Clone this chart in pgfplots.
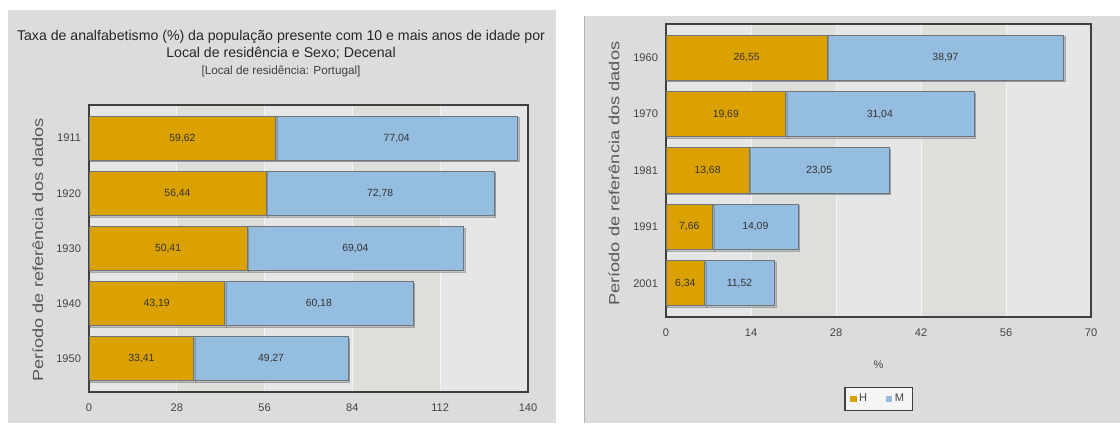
\documentclass[border=0pt]{standalone}
\usepackage{pgfplots}
\pgfplotsset{compat=1.18}
\usepackage{fontspec}
\setmainfont{Liberation Sans}
\newfontfamily\widefont[FakeStretch=1.24]{Liberation Sans}
\usetikzlibrary{shadows}
\definecolor{cH}{HTML}{DBA100}
\definecolor{cM}{HTML}{95BDE0}
\definecolor{panel}{HTML}{DCDCDC}
\definecolor{bandL}{HTML}{E6E6E6}
\definecolor{bandD}{HTML}{DEDFDA}
\definecolor{barborder}{HTML}{6E757A}
\definecolor{txt}{HTML}{333333}
\definecolor{ticktxt}{HTML}{444444}
\definecolor{frame}{HTML}{404040}

\pgfplotsset{
  bgaxis/.style={
    scale only axis, hide axis, y dir=reverse,
    ymin=-0.6, ymax=4.6, xmin=0,
  },
  mybars/.style={
    xbar stacked,
    scale only axis,
    bar width=0.8,
    y dir=reverse,
    ymin=-0.6, ymax=4.6,
    ytick={0,1,2,3,4},
    xmin=0,
    axis line style={draw=frame, line width=1.5pt},
    major tick length=0pt,
    tick style={draw=none},
    xmajorgrids,
    grid style={draw=white!55!bandL, line width=0.6pt},
    /pgf/number format/assume math mode=true,
    tick label style={font=\fontsize{8.3}{9}\selectfont, color=ticktxt},
    yticklabel style={xshift=-2.5pt},
    xticklabel style={yshift=-5.5pt},
    point meta=explicit symbolic,
    nodes near coords,
    nodes near coords align={center},
    every node near coord/.append style={
      font=\fontsize{7.8}{8}\selectfont, color=txt},
    clip=false,
  },
  hbar/.style={fill=cH, draw=barborder, line width=0.7pt,
    drop shadow={shadow xshift=1.2pt, shadow yshift=-1.2pt, fill=black!40}},
  mbar/.style={fill=cM, draw=barborder, line width=0.7pt,
    drop shadow={shadow xshift=1.2pt, shadow yshift=-1.2pt, fill=black!40}},
}

\begin{document}
\begin{tikzpicture}
% page and panels
\fill[white] (0pt,0pt) rectangle (840pt,317.25pt);
\fill[panel] (6pt,0pt) rectangle (417pt,309.75pt);
\fill[panel] (438pt,0pt) rectangle (840pt,305.25pt);
\draw[black!30, line width=0.8pt] (438.4pt,0pt) -- (438.4pt,305.25pt);

% titles
\node[font=\fontsize{10.6}{12}\selectfont, color=black!85] at (210.75pt,289.7pt)
  {Taxa de analfabetismo (\%) da população presente com 10 e mais anos de idade por};
\node[font=\fontsize{10.6}{12}\selectfont, color=black!85] at (210.75pt,277.3pt)
  {Local de residência e Sexo; Decenal};
\node[font=\fontsize{8.8}{10}\selectfont, color=black!75] at (210.75pt,263.5pt)
  {[Local de residência: Portugal]};

% y labels
\node[rotate=90, font=\widefont\fontsize{11}{12}\selectfont, color=black!65] at (28.3pt,129.75pt)
  {Período de referência dos dados};
\node[rotate=90, font=\widefont\fontsize{11}{12}\selectfont, color=black!65] at (460.5pt,187pt)
  {Período de referência dos dados};

% left background bands
\begin{axis}[bgaxis,
  at={(66.75pt,23.25pt)}, anchor=south west,
  width=329.25pt, height=215.25pt, xmax=140]
\fill[bandL] (axis cs:0,-0.6) rectangle (axis cs:140,4.6);
\fill[bandD] (axis cs:28,-0.6) rectangle (axis cs:56,4.6);
\fill[bandD] (axis cs:84,-0.6) rectangle (axis cs:112,4.6);
\end{axis}

% left axis
\begin{axis}[mybars,
  at={(66.75pt,23.25pt)}, anchor=south west,
  width=329.25pt, height=215.25pt,
  xmax=140, xtick={0,28,56,84,112,140},
  yticklabels={1911,1920,1930,1940,1950},
]
\addplot[hbar] coordinates {(59.62,0) [59,62] (56.44,1) [56,44] (50.41,2) [50,41] (43.19,3) [43,19] (33.41,4) [33,41]};
\addplot[mbar] coordinates {(77.04,0) [77,04] (72.78,1) [72,78] (69.04,2) [69,04] (60.18,3) [60,18] (49.27,4) [49,27]};
\end{axis}

% right background bands
\begin{axis}[bgaxis,
  at={(499.5pt,79.5pt)}, anchor=south west,
  width=318.75pt, height=219.75pt, xmax=70]
\fill[bandL] (axis cs:0,-0.6) rectangle (axis cs:70,4.6);
\fill[bandD] (axis cs:14,-0.6) rectangle (axis cs:28,4.6);
\fill[bandD] (axis cs:42,-0.6) rectangle (axis cs:56,4.6);
\end{axis}

% right axis
\begin{axis}[mybars,
  at={(499.5pt,79.5pt)}, anchor=south west,
  width=318.75pt, height=219.75pt,
  xmax=70, xtick={0,14,28,42,56,70},
  yticklabels={1960,1970,1981,1991,2001},
  legend style={at={(0.5,-0.28)}, anchor=center, legend columns=2,
    fill=white!60!bandL, draw=frame, line width=1pt,
    font=\fontsize{8.3}{9}\selectfont, text=ticktxt,
    inner xsep=4pt, inner ysep=3pt,
    /tikz/every even column/.append style={column sep=12pt}},
  legend image code/.code={\fill[#1, draw=none] (0pt,-2.4pt) rectangle (4.8pt,2.4pt);},
]
\addplot[hbar, forget plot] coordinates {(26.55,0) [26,55] (19.69,1) [19,69] (13.68,2) [13,68] (7.66,3) [7,66] (6.34,4) [6,34]};
\addplot[mbar, forget plot] coordinates {(38.97,0) [38,97] (31.04,1) [31,04] (23.05,2) [23,05] (14.09,3) [14,09] (11.52,4) [11,52]};
\addlegendimage{fill=cH}
\addlegendimage{fill=cM}
\legend{H,M}
\end{axis}
\node[font=\fontsize{8.3}{9}\selectfont, color=ticktxt] at (658.9pt,43.5pt) {\%};
\end{tikzpicture}
\end{document}
